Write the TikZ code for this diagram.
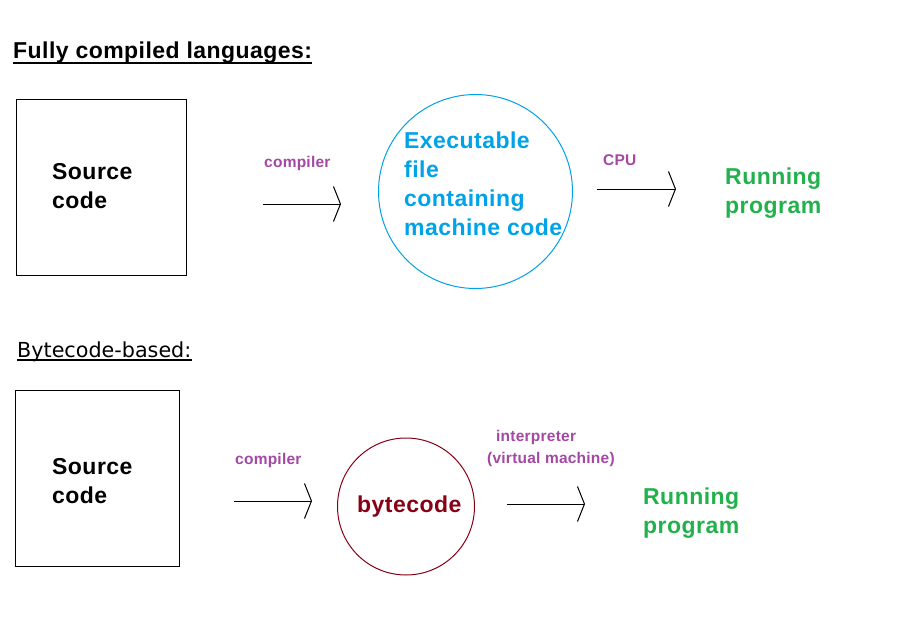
\documentclass[tikz,border=0pt]{standalone}
\usepackage{fontspec}
\usetikzlibrary{arrows.meta}
\newfontfamily\arialfam[LetterSpace=2]{Liberation Sans}
\newfontfamily\arialsmall[LetterSpace=1.5]{Liberation Sans}
\newfontfamily\dejafam{DejaVu Sans}
\definecolor{lblpurple}{HTML}{A349A4}
\definecolor{rungreen}{HTML}{22B14C}
\definecolor{exeblue}{HTML}{00A2E8}
\definecolor{bytered}{HTML}{880015}
\tikzset{
  big/.style={inner sep=0pt, anchor=base west, align=left,
    font={\arialfam\bfseries\fontsize{23}{29}\selectfont}},
  lbl/.style={inner sep=0pt, anchor=base west, text=lblpurple,
    font={\arialsmall\bfseries\fontsize{15.5}{22}\selectfont}},
  srcbox/.style={draw, line width=1pt, inner sep=0pt},
  flow/.style={line width=1pt, -{Straight Barb[length=7pt, width=35pt, line width=1pt]}},
}
\begin{document}
\begin{tikzpicture}[x=1pt, y=-1pt]
\useasboundingbox[fill=white] (0,0) rectangle (924,634);
% --- Fully compiled ---
\node[big] (t1) at (13,59) {Fully compiled languages:};
\draw[line width=2.5pt] ([yshift=-4pt]t1.base west) -- ([yshift=-4pt]t1.base east);
\node[srcbox, minimum width=170pt, minimum height=176pt] (box1) at (101,187) {};
\node[big] (src1) at (52,208) {Source\\code};
\node[lbl] (comp1) at (264,167) {compiler};
\coordinate (a1s) at (263,204);
\coordinate (a1e) at (341,204);
\draw[flow] (a1s) -- (a1e);
\node[draw=exeblue, line width=1pt, circle, minimum size=194pt, inner sep=0pt] (exe) at (475.5,191.5) {};
\node[big, text=exeblue] (exetxt) at (404,235) {Executable\\file\\containing\\machine code};
\node[lbl] (cpu) at (603,165) {CPU};
\coordinate (a2s) at (597,189);
\coordinate (a2e) at (676,189);
\draw[flow] (a2s) -- (a2e);
\node[big, text=rungreen] (run1) at (725,213) {Running\\program};
% --- Bytecode-based ---
\node[inner sep=0pt, anchor=base west, font={\dejafam\fontsize{20.7}{24}\selectfont}] (t2) at (17,357) {Bytecode-based:};
\draw[line width=1.3pt] ([yshift=-3pt]t2.base west) -- ([yshift=-3pt]t2.base east);
\node[srcbox, minimum width=164pt, minimum height=176pt] (box2) at (97,478) {};
\node[big] (src2) at (52,503) {Source\\code};
\node[lbl] (comp2) at (235,464) {compiler};
\coordinate (a3s) at (234,501);
\coordinate (a3e) at (312,501);
\draw[flow] (a3s) -- (a3e);
\node[draw=bytered, line width=1pt, circle, minimum size=137pt, inner sep=0pt] (bc) at (406,506.5) {};
\node[big, text=bytered] (bctxt) at (357,512) {bytecode};
\node[lbl] (interp) at (496,441) {interpreter};
\node[lbl] (vm) at (487,463) {(virtual machine)};
\coordinate (a4s) at (507,504);
\coordinate (a4e) at (585,504);
\draw[flow] (a4s) -- (a4e);
\node[big, text=rungreen] (run2) at (643,533) {Running\\program};
\end{tikzpicture}
\end{document}
